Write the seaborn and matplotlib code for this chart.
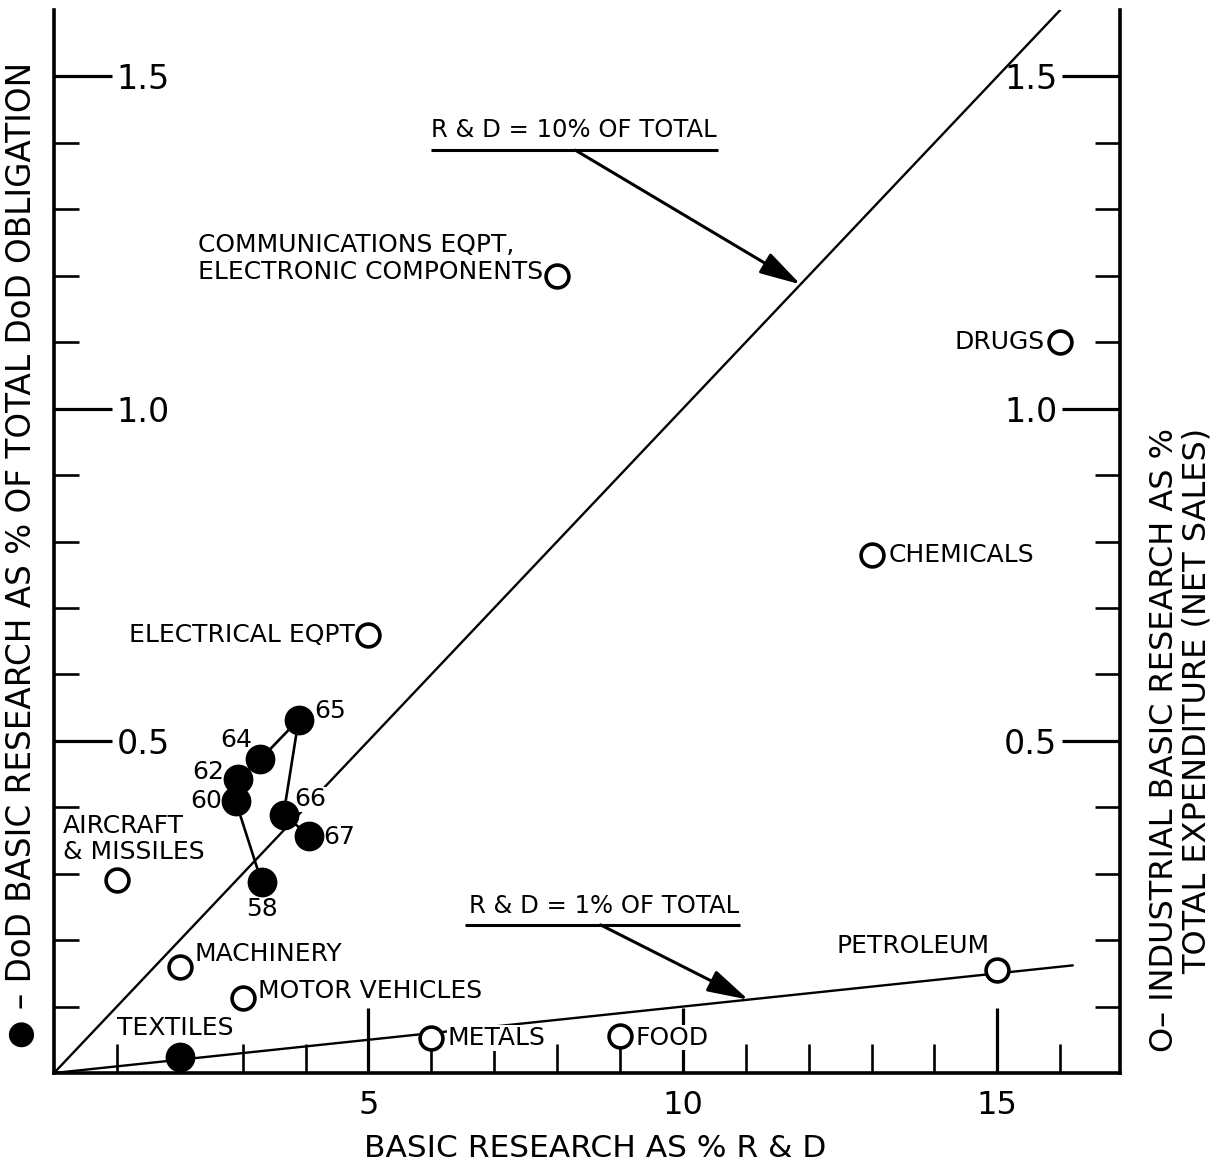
import matplotlib
matplotlib.use("Agg")
import matplotlib.pyplot as plt
import pandas as pd
import seaborn as sns

# ---------------- data ----------------
IND_NAMES = ["COMMUNICATIONS EQPT,\nELECTRONIC COMPONENTS", "DRUGS", "CHEMICALS",
             "ELECTRICAL EQPT", "AIRCRAFT\n& MISSILES", "MACHINERY", "MOTOR VEHICLES",
             "PETROLEUM", "METALS", "FOOD", "TEXTILES"]
IND_X = [8, 16, 13, 5, 1, 2, 3, 15, 6, 9, 2]
IND_Y = [1.20, 1.10, 0.78, 0.66, 0.29, 0.16, 0.113, 0.155, 0.053, 0.056, 0.024]
IND_FILLED = [False, False, False, False, False, False, False, False, False, False, True]

DOD_YEARS = ["58", "60", "62", "64", "65", "66", "67"]
DOD_X = [3.30, 2.89, 2.93, 3.28, 3.89, 3.65, 4.06]
DOD_Y = [0.288, 0.409, 0.442, 0.472, 0.532, 0.389, 0.357]

RATIO_LABELS = ["R & D = 10% OF TOTAL", "R & D = 1% OF TOTAL"]
RATIO_LINE_X = [[0, 16.0], [0, 16.2]]
RATIO_LINE_Y = [[0, 1.60], [0, 0.162]]

X_MAJOR = [5, 10, 15]
X_MAJOR_LABELS = ["5", "10", "15"]
X_MINOR = [1, 2, 3, 4, 6, 7, 8, 9, 11, 12, 13, 14, 16]
Y_MAJOR = [0.5, 1.0, 1.5]
Y_MAJOR_LABELS = ["0.5", "1.0", "1.5"]
Y_MINOR = [0.1, 0.2, 0.3, 0.4, 0.6, 0.7, 0.8, 0.9, 1.1, 1.2, 1.3, 1.4]

X_LABEL = "BASIC RESEARCH AS % R & D"
Y_LABEL_LEFT = "\u25cf \u2013 DoD BASIC RESEARCH AS % OF TOTAL DoD OBLIGATION"
Y_LABEL_RIGHT = "O\u2013 INDUSTRIAL BASIC RESEARCH AS %\nTOTAL EXPENDITURE (NET SALES)"

# ---------------- layout / style ----------------
# label offsets in points relative to the marker: (dx, dy, ha)
IND_LABEL_STYLE = {
    "COMMUNICATIONS EQPT,\nELECTRONIC COMPONENTS": (-10, 12.5, "right"),
    "DRUGS": (-11.5, 0, "right"),
    "CHEMICALS": (12.5, 0, "left"),
    "ELECTRICAL EQPT": (-10, 0, "right"),
    "AIRCRAFT\n& MISSILES": (-39, 29.5, "left"),
    "MACHINERY": (10.5, 9.5, "left"),
    "MOTOR VEHICLES": (11.0, 5.0, "left"),
    "PETROLEUM": (-5.5, 17.0, "right"),
    "METALS": (11.5, 0, "left"),
    "FOOD": (11.5, -1.4, "left"),
    "TEXTILES": (-45, 21, "left"),
}
YEAR_LABEL_STYLE = {
    "58": (0, -20, "center"),
    "60": (-10, 0, "right"),
    "62": (-10, 5, "right"),
    "64": (-6, 14, "right"),
    "65": (11, 6, "left"),
    "66": (8, 11, "left"),
    "67": (10, -1, "left"),
}
RATIO_TEXT_POS = [(8.27, 1.419), (8.74, 0.252)]
RATIO_UNDERLINE = [(5.99, 10.56, 1.389), (6.54, 10.91, 0.223)]
RATIO_ARROW_START = [(8.29, 1.389), (8.69, 0.223)]
RATIO_ARROW_END = [(11.87, 1.187), (11.04, 0.1104)]

sns.set_style("white")
plt.rcParams["font.family"] = ["DejaVu Sans"]
plt.rcParams.update({"text.color": "black", "axes.labelcolor": "black",
                     "xtick.color": "black", "ytick.color": "black",
                     "axes.edgecolor": "black"})

W, H = 1224, 1167
fig = plt.figure(figsize=(W / 100, H / 100), dpi=100)
ax = fig.add_axes([54 / W, (H - 1073) / H, (1120 - 54) / W, 1063 / H])

ind = pd.DataFrame({"name": IND_NAMES, "x": IND_X, "y": IND_Y, "filled": IND_FILLED})
dod = pd.DataFrame({"year": DOD_YEARS, "x": DOD_X, "y": DOD_Y})

# reference ratio lines
for lx, ly in zip(RATIO_LINE_X, RATIO_LINE_Y):
    sns.lineplot(x=lx, y=ly, color="black", lw=1.7, ax=ax, estimator=None, sort=False, zorder=2)

# DoD trajectory
sns.lineplot(data=dod, x="x", y="y", color="black", lw=1.9, ax=ax,
             estimator=None, sort=False, zorder=2)
sns.scatterplot(data=dod, x="x", y="y", color="black", edgecolor="black",
                s=460, linewidth=0, ax=ax, zorder=5)

# industry points
open_pts = ind[~ind["filled"]]
filled_pts = ind[ind["filled"]]
sns.scatterplot(data=open_pts, x="x", y="y", color="white", edgecolor="black",
                s=270, linewidth=2.6, ax=ax, zorder=6)
sns.scatterplot(data=filled_pts, x="x", y="y", color="black", edgecolor="black",
                s=460, linewidth=0, ax=ax, zorder=6)

bbox = dict(facecolor="white", edgecolor="none", pad=0.5)
for _, r in ind.iterrows():
    dx, dy, ha = IND_LABEL_STYLE[r["name"]]
    ax.annotate(r["name"], (r["x"], r["y"]), xytext=(dx, dy), textcoords="offset points",
                ha=ha, va="center", multialignment="left", fontsize=18,
                linespacing=1.12, bbox=bbox, zorder=3)

for _, r in dod.iterrows():
    dx, dy, ha = YEAR_LABEL_STYLE[r["year"]]
    ax.annotate(r["year"], (r["x"], r["y"]), xytext=(dx, dy), textcoords="offset points",
                ha=ha, va="center", fontsize=18, bbox=bbox, zorder=3)

for lab, tp, ul, a0, a1 in zip(RATIO_LABELS, RATIO_TEXT_POS, RATIO_UNDERLINE,
                               RATIO_ARROW_START, RATIO_ARROW_END):
    ax.text(tp[0], tp[1], lab, ha="center", va="center", fontsize=17.5, zorder=3)
    ax.plot([ul[0], ul[1]], [ul[2], ul[2]], color="black", lw=2.2, zorder=3,
            solid_capstyle="butt")
    ax.annotate("", xy=a1, xytext=a0,
                arrowprops=dict(arrowstyle="-|>,head_length=0.9,head_width=0.25",
                                color="black", lw=2.2,
                                mutation_scale=28, shrinkA=0, shrinkB=0), zorder=3)

# axes limits & spines
ax.set_xlim(0, 16.95)
ax.set_ylim(0, 1.6)
ax.spines["top"].set_visible(False)
for s in ["left", "right", "bottom"]:
    ax.spines[s].set_visible(True)
    ax.spines[s].set_linewidth(2.6)
    ax.spines[s].set_color("black")

ax.set_xticks(X_MAJOR, labels=X_MAJOR_LABELS)
ax.set_xticks(X_MINOR, minor=True)
ax.set_yticks(Y_MAJOR, labels=Y_MAJOR_LABELS)
ax.set_yticks(Y_MINOR, minor=True)

ax.tick_params(axis="x", which="major", direction="in", length=47, width=2.3,
               labelsize=23, pad=12, bottom=True, top=False, color="black")
ax.tick_params(axis="x", which="minor", direction="in", length=21, width=1.9,
               bottom=True, top=False, color="black")
ax.tick_params(axis="y", which="major", direction="in", length=42, width=2.3,
               left=True, right=True, labelleft=True, labelright=True,
               labelsize=24, pad=-45, color="black")
ax.tick_params(axis="y", which="minor", direction="in", length=18, width=1.9,
               left=True, right=True, color="black")
for t in ax.yaxis.get_major_ticks():
    t.label1.set_horizontalalignment("left")
    t.label2.set_horizontalalignment("right")

ax.set_xlabel(X_LABEL, fontsize=22.5)
ax.xaxis.set_label_coords(0.508, -0.057)
ax.set_ylabel(Y_LABEL_LEFT, fontsize=23.5)
ax.yaxis.set_label_coords(-0.015, 0.487)
ax.text(1.057, 0.313, Y_LABEL_RIGHT, transform=ax.transAxes, rotation=90,
        ha="center", va="center", multialignment="right", fontsize=23,
        linespacing=1.05)

ax.grid(False)
fig.savefig("out.png", dpi=100, facecolor="white")
